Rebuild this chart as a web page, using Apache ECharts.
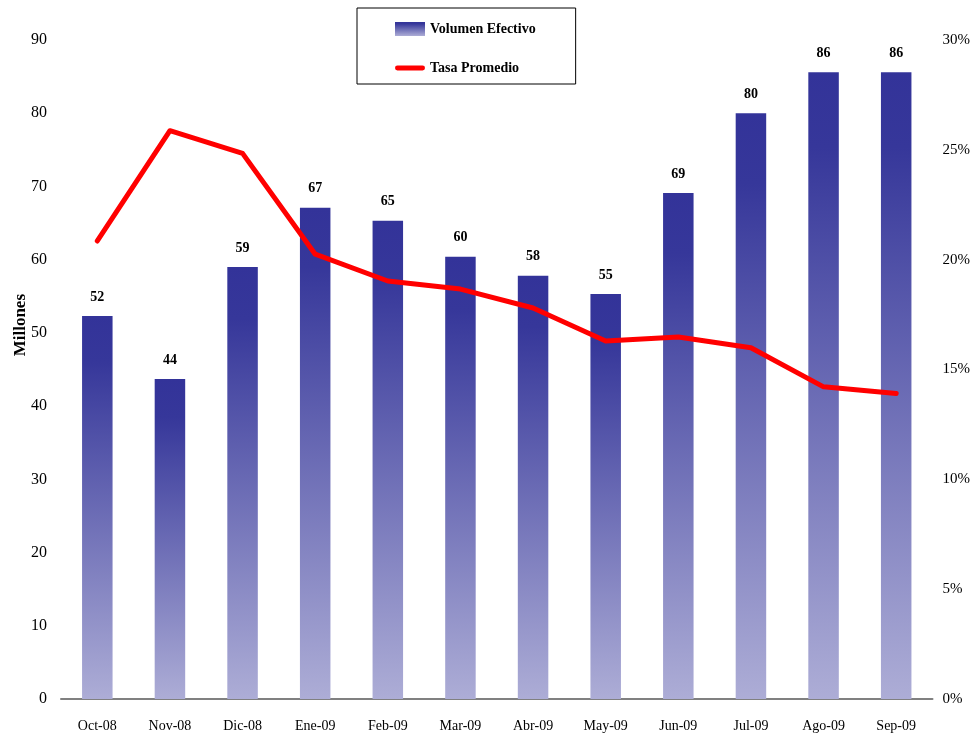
<!DOCTYPE html>
<html>
<head>
<meta charset="utf-8">
<script src="https://cdn.jsdelivr.net/npm/echarts@6/dist/echarts.min.js"></script>
<style>
html,body{margin:0;padding:0;background:#fff;}
#chart{width:973px;height:740px;}
</style>
</head>
<body>
<div id="chart"></div>
<script>
const categories = ['Oct-08','Nov-08','Dic-08','Ene-09','Feb-09','Mar-09','Abr-09','May-09','Jun-09','Jul-09','Ago-09','Sep-09'];
const volumenEfectivo = [52.3, 43.7, 59.0, 67.1, 65.3, 60.4, 57.8, 55.3, 69.1, 80.0, 85.6, 85.6];
const tasaPromedio = [20.85, 25.87, 24.84, 20.25, 19.03, 18.66, 17.8, 16.3, 16.48, 15.99, 14.21, 13.91];
const leftTicks = {min: 0, max: 90, interval: 10};
const rightTicks = {min: 0, max: 30, interval: 5};

const serif = '"Liberation Serif", "DejaVu Serif", serif';
const chart = echarts.init(document.getElementById('chart'));
const barGradient = new echarts.graphic.LinearGradient(0, 0, 0, 1, [
  {offset: 0, color: '#333399'},
  {offset: 0.12, color: '#36379a'},
  {offset: 1, color: '#adadd6'}
]);
chart.setOption({
  animation: false,
  backgroundColor: '#ffffff',
  grid: {left: 61, right: 40, top: 40, bottom: 41},
  legend: {
    orient: 'vertical',
    left: 357, top: 8,
    padding: [14, 40, 9, 38],
    itemGap: 25,
    itemWidth: 30, itemHeight: 14,
    borderColor: '#000', borderWidth: 1,
    textStyle: {fontFamily: serif, fontWeight: 'bold', fontSize: 14, color: '#000'},
    data: [
      {name: 'Volumen Efectivo', icon: 'rect'},
      {name: 'Tasa Promedio', icon: 'path://M2,0 L28,0 A2.5,2.5 0 0 1 28,5 L2,5 A2.5,2.5 0 0 1 2,0 Z'}
    ]
  },
  xAxis: {
    type: 'category',
    data: categories,
    axisLine: {show: true, lineStyle: {color: '#808080', width: 2}},
    axisTick: {show: false},
    axisLabel: {fontFamily: serif, fontSize: 14, color: '#000', margin: 20}
  },
  yAxis: [
    {
      type: 'value', min: leftTicks.min, max: leftTicks.max, interval: leftTicks.interval,
      axisLine: {show: false}, axisTick: {show: false}, splitLine: {show: false},
      axisLabel: {fontFamily: serif, fontSize: 16, color: '#000', margin: 14}
    },
    {
      type: 'value', min: rightTicks.min, max: rightTicks.max, interval: rightTicks.interval,
      axisLine: {show: false}, axisTick: {show: false}, splitLine: {show: false},
      axisLabel: {fontFamily: serif, fontSize: 15, color: '#000', margin: 10, formatter: '{value}%'}
    }
  ],
  graphic: [{
    type: 'text', left: 12, top: 294, rotation: Math.PI / 2,
    style: {text: 'Millones', fill: '#000', font: 'bold 17px ' + serif}
  }],
  series: [
    {
      name: 'Volumen Efectivo', type: 'bar', data: volumenEfectivo,
      barWidth: '42%',
      itemStyle: {color: barGradient},
      label: {
        show: true, position: 'top', distance: 12,
        fontFamily: serif, fontWeight: 'bold', fontSize: 14, color: '#000',
        formatter: p => Math.round(p.value)
      }
    },
    {
      name: 'Tasa Promedio', type: 'line', yAxisIndex: 1, data: tasaPromedio,
      symbol: 'none', smooth: false,
      itemStyle: {color: '#ff0000'},
      lineStyle: {color: '#ff0000', width: 5, join: 'round', cap: 'round'}
    }
  ]
});
</script>
</body>
</html>
